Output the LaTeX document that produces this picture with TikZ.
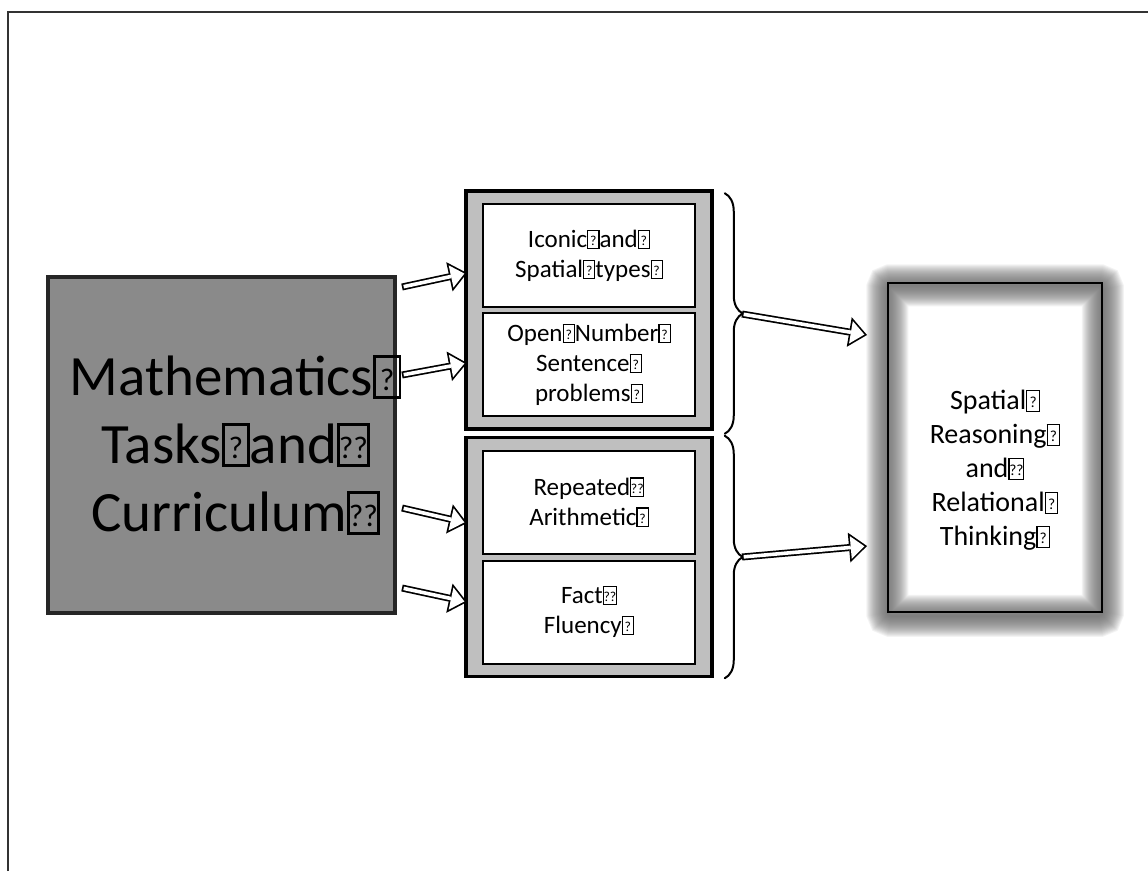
\documentclass[tikz,border=0pt]{standalone}
\usepackage{fontspec}
\setmainfont{Carlito}
\usetikzlibrary{arrows.meta}
\usetikzlibrary{positioning}
\usetikzlibrary{fit}
\usetikzlibrary{backgrounds}
\usetikzlibrary{shadows}
\usetikzlibrary{decorations.pathreplacing}

\definecolor{taskgray}{HTML}{8A8A8A}
\definecolor{groupgray}{HTML}{BFBFBF}
\definecolor{framegray}{HTML}{333333}

% missing glyph boxes
\newcommand{\qm}{{\setlength{\fboxsep}{0pt}\setlength{\fboxrule}{0.045em}\fbox{\makebox[0.4em]{\rule[-0.02em]{0pt}{0.68em}\raisebox{0.08em}{\scalebox{0.55}{?}}}}}}
\newcommand{\qmm}{{\setlength{\fboxsep}{0pt}\setlength{\fboxrule}{0.045em}\fbox{\makebox[0.48em]{\rule[-0.02em]{0pt}{0.68em}\raisebox{0.08em}{\scalebox{0.55}{??}}}}}}

\tikzset{
  taskbox/.style={draw=black!85, line width=4pt, fill=taskgray, minimum width=347pt, minimum height=336pt,
    drop shadow={opacity=0.35, shadow xshift=1.5pt, shadow yshift=-1.5pt}},
  tasktext/.style={align=center, font=\fontsize{57}{68}\selectfont},
  subbox/.style={draw=black, line width=2pt, fill=white, minimum width=212pt, minimum height=103pt,
    drop shadow={opacity=0.25, shadow xshift=1pt, shadow yshift=-1pt}, align=center,
    font=\fontsize{25}{30}\selectfont},
  groupbox/.style={draw=black, line width=3.5pt, fill=groupgray, inner xsep=16pt, inner ysep=12pt},
  resultbox/.style={draw=black, line width=1.5pt, minimum width=214pt, minimum height=329pt},
  resulttext/.style={align=center, font=\fontsize{28}{34}\selectfont},
  bracket/.style={decorate, decoration={brace, amplitude=18pt}, line width=2pt, line cap=round},
  hollowarrow/.style={line width=7pt, -{Triangle[length=18pt, width=30pt, line width=0pt]},
    postaction={draw=white, line width=3.6pt, shorten >=2.7pt, shorten <=1.7pt,
      -{Triangle[length=13.6pt, width=22.7pt, line width=0pt]}}}
}

\begin{document}
\begin{tikzpicture}[x=1pt, y=-1pt]
  \useasboundingbox (0,0) rectangle (1148,871);
  \begin{scope}[on background layer]
    \fill[white] (0,0) rectangle (1148,871);
  \end{scope}
  \draw[framegray, line width=2pt] (8,871) -- (8,12) -- (1148,12);

  % left box
  \node[taskbox] (tasks) at (221.5,445) {};
  \node[tasktext] (tasklabel) at ([xshift=14pt]tasks.center) {Mathematics\qm\\Tasks\qm and\qmm\\Curriculum\qmm};

  % middle boxes
  \node[subbox] (iconic) at (589,255.5) {Iconic\qm and\qm\\Spatial\qm types\qm};
  \node[subbox, below=4pt of iconic] (open) {Open\qm Number\qm\\Sentence\qm\\problems\qm};
  \node[subbox] (repeated) at (589,502) {Repeated\qmm\\Arithmetic\qm};
  \node[subbox, below=5pt of repeated] (fact) {Fact\qmm\\Fluency\qm};

  \begin{scope}[on background layer]
    \node[groupbox, fit=(iconic)(open)] (upper) {};
    \node[groupbox, fit=(repeated)(fact)] (lower) {};
  \end{scope}

  % right box
  \node[resultbox] (result) at (995,447.5) {};
  \begin{scope}[on background layer]
    \foreach \w in {42,40,...,2}
      \draw[black!60, opacity=0.075, line width=\w pt, rounded corners=4pt]
        ([yshift=-3pt]result.north west) rectangle ([yshift=-3pt]result.south east);
  \end{scope}
  \node[resulttext] (reasoning) at ([yshift=-23pt]result.center)
    {Spatial\qm\\Reasoning\qm\\and\qmm\\Relational\qm\\Thinking\qm};

  % braces
  \draw[bracket] ([xshift=11pt,yshift=-4pt]upper.north east) -- ([xshift=11pt,yshift=-3pt]upper.south east);
  \draw[bracket] ([xshift=11pt]lower.north east) -- ([xshift=11pt]lower.south east);

  \coordinate (s1) at (402,287);
  \coordinate (e1) at (467,273);
  \coordinate (s2) at (402,375);
  \coordinate (e2) at (467,363);
  \coordinate (s3) at (402,508);
  \coordinate (e3) at (467,523);
  \coordinate (s4) at (402,588);
  \coordinate (e4) at (467,602);
  \coordinate (b1) at (742,314);
  \coordinate (r1) at (867,335);
  \coordinate (b2) at (742,557);
  \coordinate (r2) at (867,546);

  \draw[hollowarrow] (s1) -- (e1);
  \draw[hollowarrow] (s2) -- (e2);
  \draw[hollowarrow] (s3) -- (e3);
  \draw[hollowarrow] (s4) -- (e4);
  \draw[hollowarrow] (b1) -- (r1);
  \draw[hollowarrow] (b2) -- (r2);
\end{tikzpicture}
\end{document}
